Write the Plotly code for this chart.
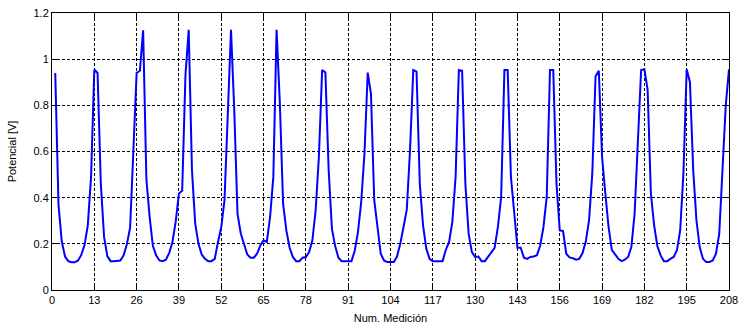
import plotly.graph_objects as go

# Measurement index (Matlab 1-based) and measured potential [V]
medicion = list(range(1, 209))
potencial = [
    0.94, 0.37, 0.21, 0.145, 0.125, 0.12, 0.12, 0.128, 0.152, 0.195,      # 1-10
    0.28, 0.49, 0.955, 0.94, 0.46, 0.23, 0.147, 0.125, 0.125, 0.125,      # 11-20
    0.128, 0.15, 0.198, 0.27, 0.6, 0.94, 0.95, 1.125, 0.48, 0.316,        # 21-30
    0.19, 0.15, 0.128, 0.125, 0.131, 0.16, 0.208, 0.295, 0.418, 0.43,     # 31-40
    0.93, 1.127, 0.52, 0.287, 0.2, 0.154, 0.135, 0.125, 0.125, 0.135,     # 41-50
    0.208, 0.273, 0.389, 0.74, 1.127, 0.78, 0.33, 0.245, 0.2, 0.154,      # 51-60
    0.14, 0.14, 0.157, 0.193, 0.215, 0.208, 0.316, 0.49, 1.127, 0.81,     # 61-70
    0.374, 0.258, 0.183, 0.143, 0.125, 0.125, 0.14, 0.143, 0.164, 0.215,  # 71-80
    0.345, 0.577, 0.953, 0.942, 0.52, 0.266, 0.19, 0.14, 0.125, 0.125,    # 81-90
    0.125, 0.125, 0.169, 0.251, 0.382, 0.591, 0.942, 0.85, 0.39, 0.266,   # 91-100
    0.157, 0.128, 0.121, 0.121, 0.121, 0.145, 0.2, 0.273, 0.348, 0.606,   # 101-110
    0.953, 0.946, 0.46, 0.28, 0.179, 0.135, 0.125, 0.125, 0.125, 0.125,   # 111-120
    0.174, 0.208, 0.295, 0.49, 0.953, 0.95, 0.46, 0.244, 0.164, 0.143,    # 121-130
    0.145, 0.125, 0.125, 0.143, 0.161, 0.183, 0.273, 0.403, 0.953, 0.953, # 131-140
    0.49, 0.331, 0.183, 0.183, 0.14, 0.135, 0.143, 0.145, 0.151, 0.193,   # 141-150
    0.273, 0.403, 0.953, 0.953, 0.46, 0.258, 0.256, 0.157, 0.141, 0.138,  # 151-160
    0.131, 0.135, 0.16, 0.21, 0.302, 0.505, 0.925, 0.95, 0.577, 0.418,    # 161-170
    0.273, 0.174, 0.157, 0.135, 0.125, 0.131, 0.143, 0.186, 0.331, 0.62,  # 171-180
    0.953, 0.956, 0.867, 0.418, 0.28, 0.189, 0.15, 0.125, 0.125, 0.135,   # 181-190
    0.143, 0.172, 0.258, 0.505, 0.956, 0.90, 0.52, 0.302, 0.186, 0.135,   # 191-200
    0.121, 0.121, 0.128, 0.157, 0.244, 0.52, 0.80, 0.956,                 # 201-208
]

x_ticks = [0, 13, 26, 39, 52, 65, 78, 91, 104, 117, 130, 143, 156, 169, 182, 195, 208]
y_ticks = [0, 0.2, 0.4, 0.6, 0.8, 1, 1.2]
y_tick_text = ["0", "0.2", "0.4", "0.6", "0.8", "1", "1.2"]

FONT = "Liberation Sans, Arial, sans-serif"

fig = go.Figure()
fig.add_trace(go.Scatter(
    x=medicion, y=potencial, mode="lines",
    line=dict(color="#0000FF", width=2),
    showlegend=False, hoverinfo="skip",
))

axis_common = dict(
    showline=True, linecolor="black", linewidth=1, mirror="ticks",
    ticks="inside", ticklen=5, tickcolor="black", tickwidth=1,
    showgrid=True, gridcolor="black", gridwidth=1, griddash="3px,2px",
    zeroline=False, automargin=False, ticklabeloverflow="allow",
    tickfont=dict(family=FONT, size=11, color="black"),
)

fig.update_layout(
    width=750, height=328,
    margin=dict(l=52, r=21, t=13, b=38, pad=0),
    paper_bgcolor="white", plot_bgcolor="white",
    font=dict(family=FONT, size=11, color="black"),
    xaxis=dict(
        range=[0, 208], tickmode="array", tickvals=x_ticks,
        ticktext=[str(v) for v in x_ticks],
        title=dict(text="Num. Medición", standoff=9, font=dict(family=FONT, size=11)),
        **axis_common,
    ),
    yaxis=dict(
        range=[0, 1.2], tickmode="array", tickvals=y_ticks, ticktext=y_tick_text,
        title=dict(text="Potencial [V]", standoff=14, font=dict(family=FONT, size=11)),
        **axis_common,
    ),
)

# Remove the default 8px page margin so the figure fills the 750x328 window exactly
fig.write_html(
    "out.html",
    config={"displayModeBar": False, "staticPlot": True},
    post_script="document.body.style.margin='0';document.body.style.overflow='hidden';",
)
